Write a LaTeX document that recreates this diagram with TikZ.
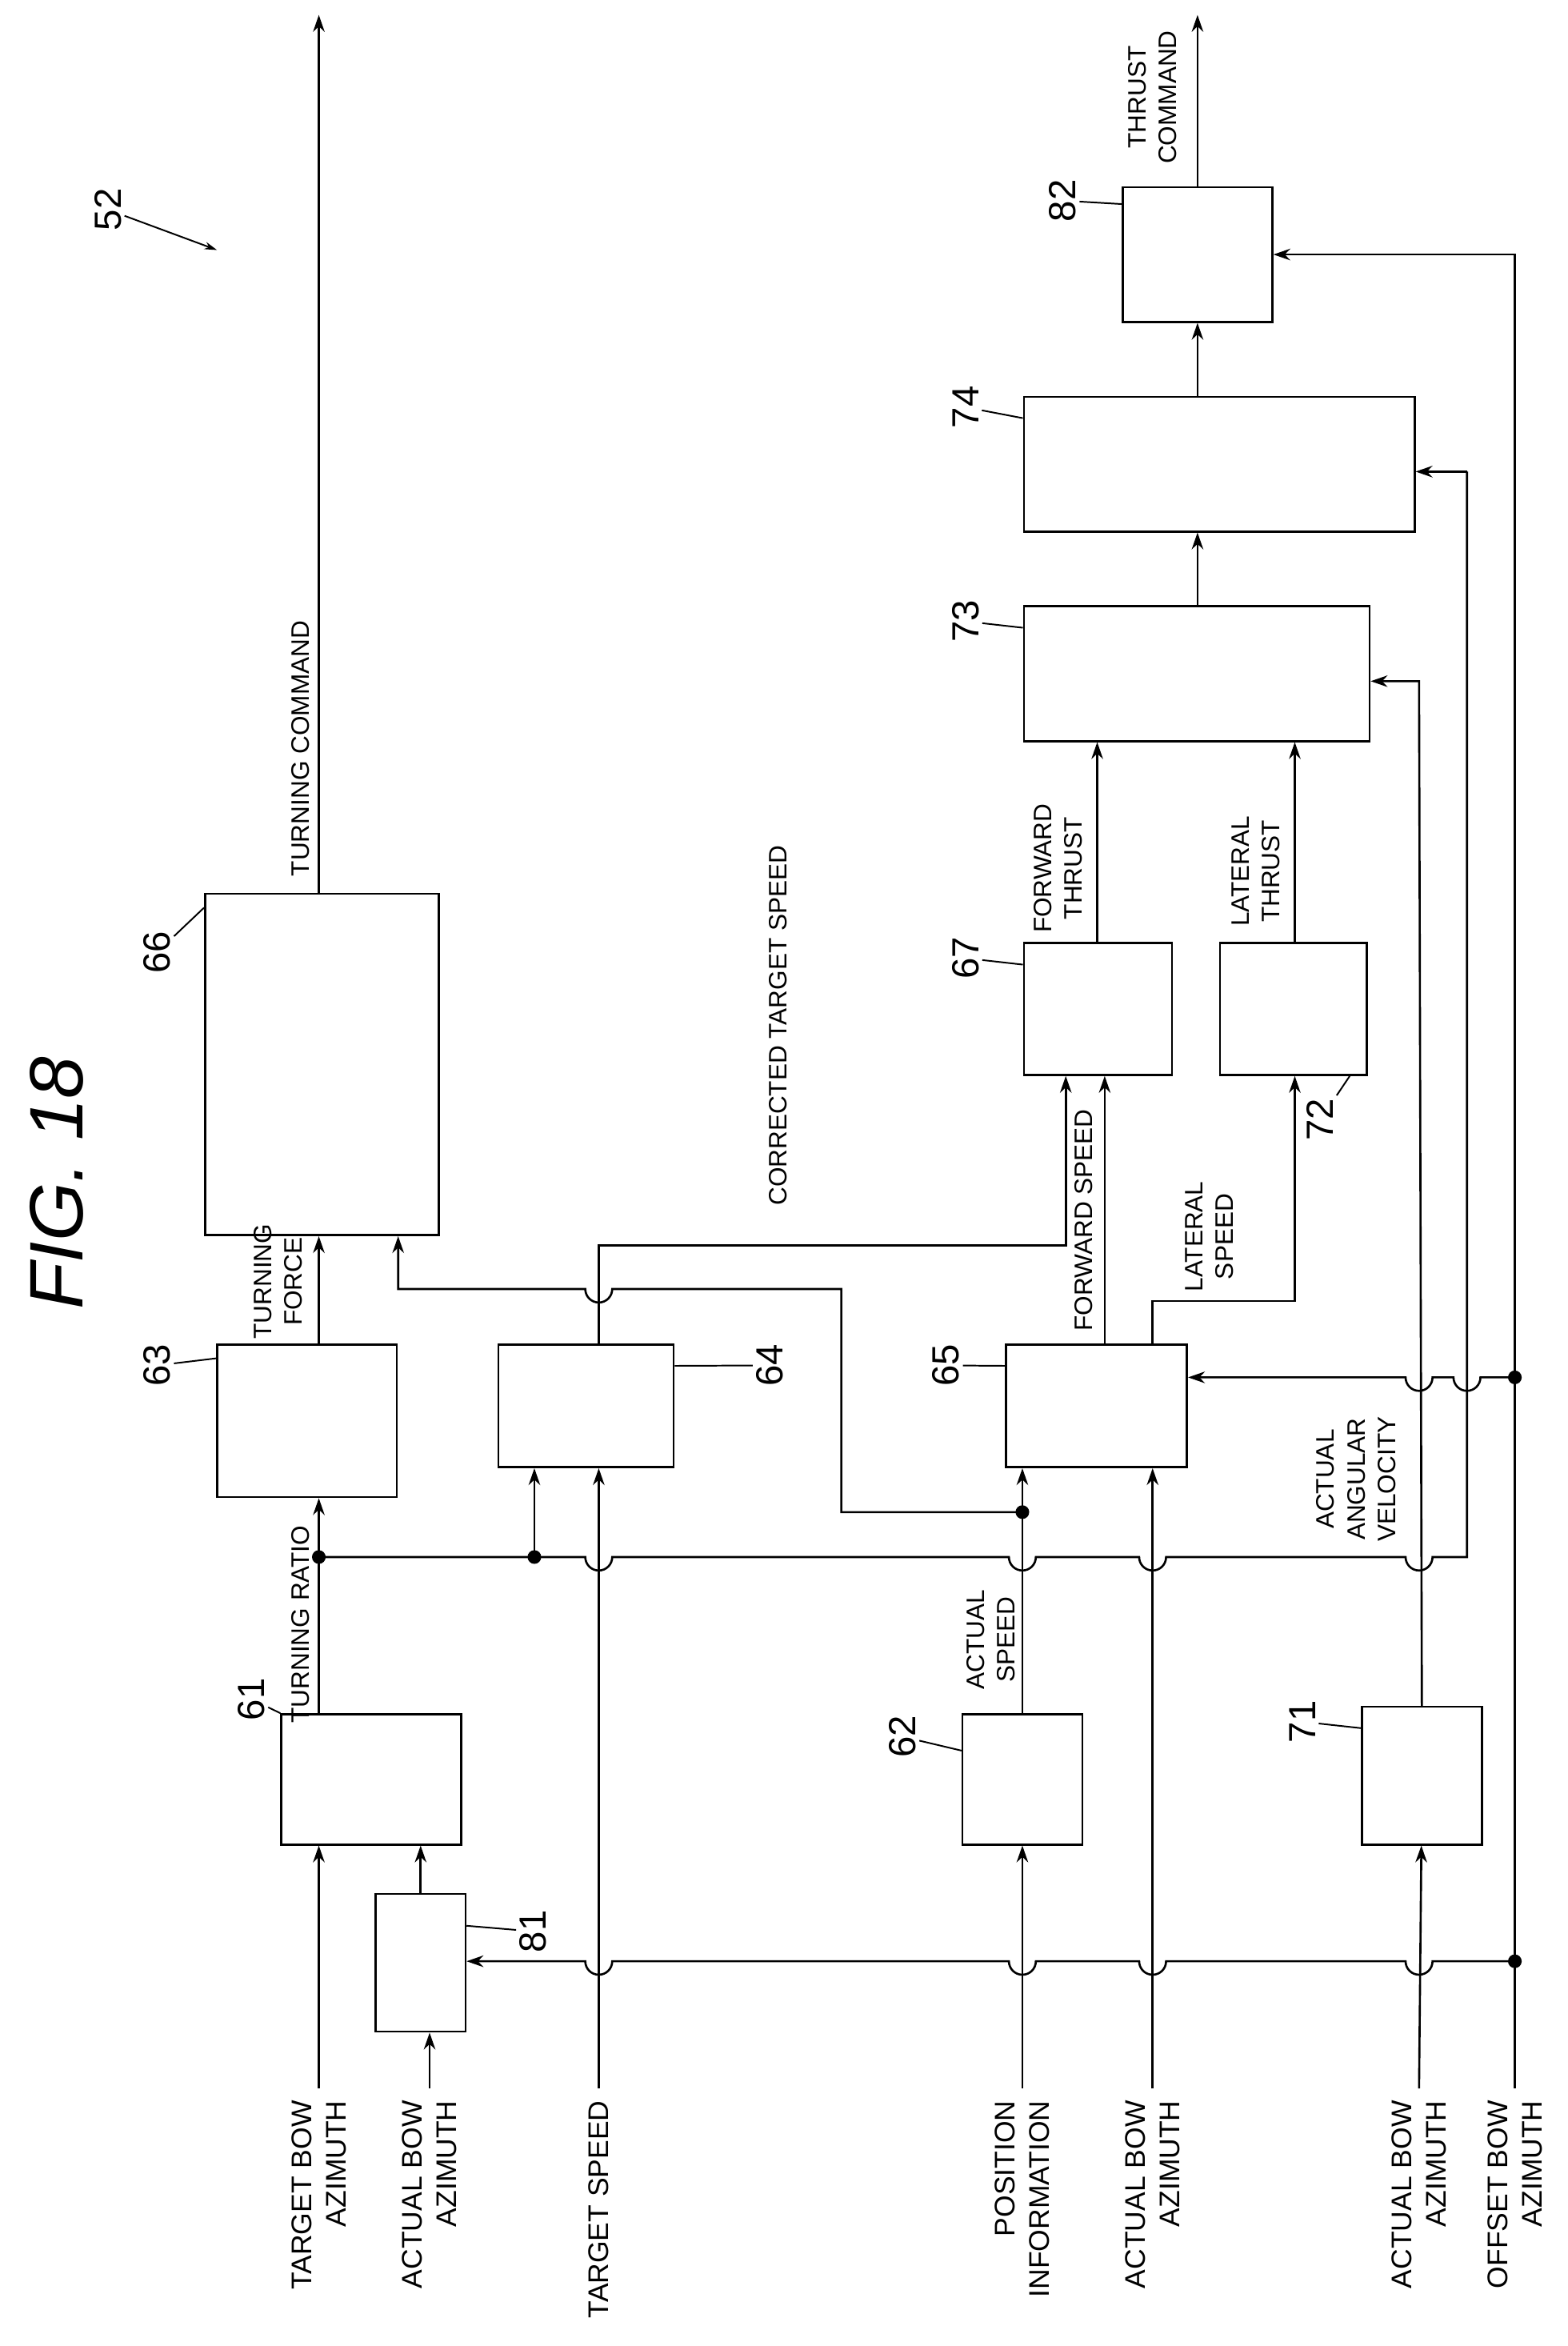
\documentclass[tikz,border=0pt]{standalone}
\usepackage{fontspec}
\setmainfont{Liberation Sans}
\usetikzlibrary{arrows.meta}
\def\u{0.05cm}
\tikzset{
	blk/.style={draw,rectangle,line width=2pt,inner sep=0pt},
	sig/.style={line width=2pt},
	arr/.style={sig,-{Stealth[length=16pt,width=11pt]}},
	lbl/.style={rotate=90,align=center,inner sep=2pt,font=\fontsize{24}{29}\selectfont},
	inl/.style={rotate=90,anchor=east,align=right,inner sep=0pt,font=\fontsize{27}{33}\selectfont},
	num/.style={rotate=90,inner sep=3pt,font=\fontsize{36}{36}\selectfont},
	lead/.style={line width=1.5pt},
	dot/.style={circle,fill,inner sep=0pt,minimum size=13pt}
}
% block from its two corners (x1,y1) (x2,y2)
\newcommand{\blk}[5]{\node[blk,minimum width={(#4-#2)*\u},minimum height={(#5-#3)*\u}] (#1) at ({(#2+#4)/2},{(#3+#5)/2}) {};}
% hop of a horizontal line over a vertical one at x
\newcommand{\hop}[2]{-- (#1-9,#2) arc[start angle=180,end angle=0,radius=9]}
\newcommand{\hopl}[2]{-- (#1+9,#2) arc[start angle=0,end angle=180,radius=9]}

\begin{document}
\begin{tikzpicture}[x=\u,y=-\u]
	\useasboundingbox (0,0) rectangle (1047,1567);

	\node[rotate=90,font=\itshape\fontsize{72}{72}\selectfont] (fig) at (38,790) {FIG. 18};
	\node[num] (n52) at (72,140) {52};
	\coordinate (p52) at (145,167);
	\draw[lead,-{Stealth[length=12pt,width=7pt]}] (n52) -- (p52);

	% blocks
	\blk{b61}{188}{1145}{308}{1232}
	\blk{b81}{251}{1265}{311}{1357}
	\blk{b62}{643}{1145}{723}{1232}
	\blk{b71}{910}{1140}{990}{1232}
	\blk{b63}{145}{898}{265}{1000}
	\blk{b64}{333}{898}{450}{980}
	\blk{b65}{672}{898}{793}{980}
	\blk{b66}{137}{597}{293}{825}
	\blk{b67}{684}{630}{783}{718}
	\blk{b72}{815}{630}{913}{718}
	\blk{b73}{684}{405}{915}{495}
	\blk{b74}{684}{265}{945}{355}
	\blk{b82}{750}{125}{850}{215}

	% reference numbers
	\node[num] (n61) at (168,1135) {61};
	\node[num] (n81) at (356,1290) {81};
	\node[num] (n62) at (603,1160) {62};
	\node[num] (n71) at (870,1150) {71};
	\node[num] (n63) at (105,912) {63};
	\node[num] (n64) at (514,912) {64};
	\node[num] (n65) at (632,912) {65};
	\node[num] (n66) at (105,636) {66};
	\node[num] (n67) at (645,640) {67};
	\node[num] (n72) at (882,748) {72};
	\node[num] (n73) at (645,415) {73};
	\node[num] (n74) at (645,272) {74};
	\node[num] (n82) at (710,134) {82};
	\draw[lead] (n61) -- (b61.north west);
	\draw[lead] (n81) -- ([yshift=-22*\u]b81.north east);
	\draw[lead] (n62) -- ([yshift=-25*\u]b62.north west);
	\draw[lead] (n71) -- ([yshift=-15*\u]b71.north west);
	\draw[lead] (n63) -- ([yshift=-10*\u]b63.north west);
	\draw[lead] (n64) -- ([yshift=-15*\u]b64.north east);
	\draw[lead] (n65) -- ([yshift=-15*\u]b65.north west);
	\draw[lead] (n66) -- ([yshift=-10*\u]b66.north west);
	\draw[lead] (n67) -- ([yshift=-15*\u]b67.north west);
	\draw[lead] (n72) -- ([xshift=-12*\u]b72.south east);
	\draw[lead] (n73) -- ([yshift=-15*\u]b73.north west);
	\draw[lead] (n74) -- ([yshift=-15*\u]b74.north west);
	\draw[lead] (n82) -- ([yshift=-12*\u]b82.north west);

	% inputs
	\node[inl] (iTB) at (213,1403) {TARGET BOW\\AZIMUTH};
	\node[inl] (iAB1) at (287,1403) {ACTUAL BOW\\AZIMUTH};
	\node[inl] (iTS) at (400,1403) {TARGET SPEED};
	\node[inl] (iPI) at (683,1403) {POSITION\\INFORMATION};
	\node[inl] (iAB2) at (770,1403) {ACTUAL BOW\\AZIMUTH};
	\node[inl] (iAB3) at (948,1403) {ACTUAL BOW\\AZIMUTH};
	\node[inl] (iOB) at (1012,1403) {OFFSET BOW\\AZIMUTH};
	\coordinate (sTB) at (213,1395);
	\coordinate (sAB1) at (287,1395);
	\coordinate (sTS) at (400,1395);
	\coordinate (sPI) at (683,1395);
	\coordinate (sAB2) at (770,1395);
	\coordinate (sAB3) at (948,1395);
	\coordinate (sOB) at (1012,1395);

	% junctions
	\coordinate (jOB1) at (1012,1310);
	\coordinate (jOB2) at (1012,920);
	\coordinate (jTR) at (213,1040);
	\coordinate (jTR2) at (357,1040);
	\coordinate (jAS) at (683,1010);
	\foreach \j in {jOB1,jOB2,jTR,jTR2,jAS} \node[dot] at (\j) {};

	\draw[arr] (sTB) -- (sTB |- b61.south);
	\draw[arr] (sAB1) -- (sAB1 |- b81.south);
	\draw[arr] (b81) -- (b61.south -| b81);
	\draw[arr] (sTS) -- (sTS |- b64.south);
	\draw[arr] (sPI) -- (b62);
	\draw[arr] (b62) -- (b65.south -| b62);
	\draw[arr] (sAB2) -- (sAB2 |- b65.south);
	\draw[arr] (sAB3) -- (b71);
	\draw[arr] (sOB) -- (1012,170) -- (b82.east |- 0,170);
	\draw[arr] (jOB1) \hopl{948}{1310} \hopl{770}{1310} \hopl{683}{1310} \hopl{400}{1310} -- (b81.east |- jOB1);
	\draw[arr] (jOB2) \hopl{980}{920} \hopl{948}{920} -- (b65.east |- jOB2);
	\draw[arr] (b71) -- (948,455) -- (b73.east |- 0,455);

	% turning ratio
	\draw[arr] (b61.north -| jTR) -- (b63.south -| jTR);
	\draw[sig] (jTR) \hop{400}{1040} \hop{683}{1040} \hop{770}{1040} \hop{948}{1040} -- (980,1040) -- (980,315);
	\draw[arr] (980,315) -- (b74.east |- 0,315);
	\draw[arr] (jTR2) -- (b64.south -| jTR2);
	\node[lbl] (tTR) at (201,1085) {TURNING RATIO};

	% turning force, corrected target speed, actual speed
	\draw[arr] (b63.north -| jTR) -- (b66.south -| jTR);
	\node[lbl] (tTF) at (186,856) {TURNING\\FORCE};
	\draw[arr] (jAS) -- (562,1010) -- (562,861) \hopl{400}{861} -- (266,861) -- (b66.south -| 266,0);
	\draw[arr] (b64.north -| sTS) -- (400,832) -- (712,832) -- (b67.south -| 712,0);
	\node[lbl] (tCT) at (520,685) {CORRECTED TARGET SPEED};
	\node[lbl] (tAS) at (662,1095) {ACTUAL\\SPEED};

	% speeds and thrusts
	\draw[arr] (b65.north -| 738,0) -- (b67.south -| 738,0);
	\node[lbl] (tFS) at (724,815) {FORWARD SPEED};
	\draw[arr] (b65.north -| 770,0) -- (770,869) -- (865,869) -- (b72.south -| 865,0);
	\node[lbl] (tLS) at (808,826) {LATERAL\\SPEED};
	\draw[arr] (b67.north -| 733,0) -- (b73.south -| 733,0);
	\node[lbl] (tFT) at (707,580) {FORWARD\\THRUST};
	\draw[arr] (b72.north -| 865,0) -- (b73.south -| 865,0);
	\node[lbl] (tLT) at (839,582) {LATERAL\\THRUST};
	\node[lbl] (tAV) at (906,988) {ACTUAL\\ANGULAR\\VELOCITY};
	\draw[arr] (b73.north -| 800,0) -- (b74.south -| 800,0);
	\draw[arr] (b74.north -| 800,0) -- (b82.south -| 800,0);

	% outputs
	\coordinate (oTC) at (213,10);
	\coordinate (oTH) at (800,10);
	\draw[arr] (b66.north -| oTC) -- (oTC);
	\node[lbl] (tTC) at (201,500) {TURNING COMMAND};
	\draw[arr] (b82.north -| oTH) -- (oTH);
	\node[lbl] (tTH) at (770,65) {THRUST\\COMMAND};
\end{tikzpicture}
\end{document}
